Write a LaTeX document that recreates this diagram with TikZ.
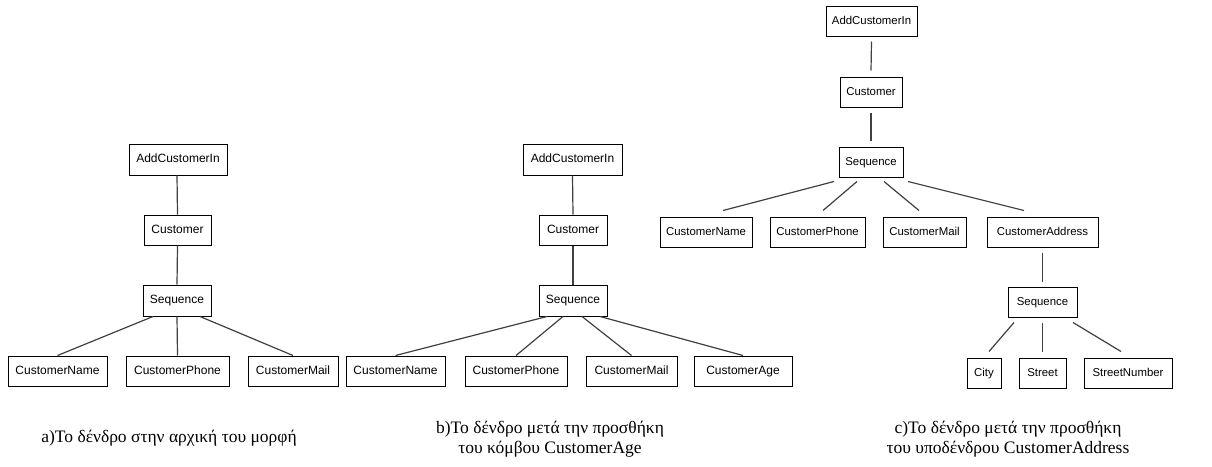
\documentclass[tikz,border=0pt]{standalone}
\usepackage{fontspec}
\setmainfont{Liberation Serif}
\newfontfamily\boxfont{Liberation Sans}
\begin{document}
\begin{tikzpicture}[x=1pt,y=-1pt,
  tnode/.style={draw=black,line width=1pt,rectangle,inner sep=0pt,
    minimum height=30pt,text height=8.8pt,text depth=2.4pt,
    font=\boxfont\fontsize{12}{14}\selectfont},
  tnodec/.style={tnode,font=\boxfont\fontsize{11.4}{14}\selectfont},
  edge/.style={draw=black!75,line width=1.2pt},
  caption/.style={align=center,anchor=base,font=\fontsize{17.5}{19.5}\selectfont}]
\useasboundingbox (0,0) rectangle (1212,466);

% ---- tree a ----
\node[tnode,minimum width=98pt,minimum height=31pt] (addA) at (178,159.5) {AddCustomerIn};
\node[tnode,minimum width=67pt] (custA) at (177.5,230) {Customer};
\node[tnode,minimum width=68pt,minimum height=31pt] (seqA) at (177,300.5) {Sequence};
\node[tnode,minimum width=99pt] (nameA) at (57.5,371) {CustomerName};
\node[tnode,minimum width=103pt] (phoneA) at (177.5,371) {CustomerPhone};
\node[tnode,minimum width=90pt] (mailA) at (293,371) {CustomerMail};
\draw[edge] ([xshift=-1pt]addA.south) -- (custA.north);
\draw[edge] (custA.south) -- (seqA.north);
\draw[edge] ([xshift=-24pt]seqA.south) -- (nameA.north);
\draw[edge] (seqA.south) -- (phoneA.north);
\draw[edge] ([xshift=23pt]seqA.south) -- (mailA.north);

% ---- tree b ----
\node[tnode,minimum width=99pt,minimum height=31pt] (addB) at (572.5,159.5) {AddCustomerIn};
\node[tnode,minimum width=68pt] (custB) at (573,230) {Customer};
\node[tnode,minimum width=68pt,minimum height=31pt] (seqB) at (573,300.5) {Sequence};
\node[tnode,minimum width=99pt] (nameB) at (395.5,371) {CustomerName};
\node[tnode,minimum width=102pt] (phoneB) at (516,371) {CustomerPhone};
\node[tnode,minimum width=91pt] (mailB) at (631.5,371) {CustomerMail};
\node[tnode,minimum width=98pt] (ageB) at (743,371) {CustomerAge};
\draw[edge] (addB.south) -- (custB.north);
\draw[edge] (custB.south) -- (seqB.north);
\draw[edge] ([xshift=-26pt]seqB.south) -- (nameB.north);
\draw[edge] ([xshift=-10pt]seqB.south) -- (phoneB.north);
\draw[edge] ([xshift=9pt]seqB.south) -- (mailB.north);
\draw[edge] ([xshift=27pt]seqB.south) -- (ageB.north);

% ---- tree c ----
\node[tnodec,minimum width=91pt] (addC) at (871.5,21) {AddCustomerIn};
\node[tnodec,minimum width=62pt] (custC) at (871,92) {Customer};
\node[tnodec,minimum width=64pt] (seqC) at (871,162) {Sequence};
\node[tnodec,minimum width=92pt] (nameC) at (706,232) {CustomerName};
\node[tnodec,minimum width=95pt] (phoneC) at (817.5,232) {CustomerPhone};
\node[tnodec,minimum width=83pt] (mailC) at (924.5,232) {CustomerMail};
\node[tnodec,minimum width=111pt] (addrC) at (1042.5,232) {CustomerAddress};
\node[tnodec,minimum width=69pt] (seq2C) at (1042.5,302) {Sequence};
\node[tnodec,minimum width=34pt] (cityC) at (984,373) {City};
\node[tnodec,minimum width=47pt] (streetC) at (1042.5,373) {Street};
\node[tnodec,minimum width=88pt] (snC) at (1128,373) {StreetNumber};
\draw[edge] ([yshift=-5pt]addC.south) -- ([yshift=6pt]custC.north);
\draw[edge] ([yshift=-5pt]custC.south) -- ([yshift=6pt]seqC.north);
\draw[edge] ([xshift=-37pt,yshift=-4pt]seqC.south) -- ([xshift=17pt,yshift=6pt]nameC.north);
\draw[edge] ([xshift=-14pt,yshift=-4pt]seqC.south) -- ([xshift=5.5pt,yshift=6pt]phoneC.north);
\draw[edge] ([xshift=13pt,yshift=-4pt]seqC.south) -- ([xshift=-5.5pt,yshift=6pt]mailC.north);
\draw[edge] ([xshift=37pt,yshift=-4pt]seqC.south) -- ([xshift=-18.5pt,yshift=6pt]addrC.north);
\draw[edge] ([yshift=-5pt]addrC.south) -- ([yshift=5pt]seq2C.north);
\draw[edge] ([xshift=-28.5pt,yshift=-5pt]seq2C.south) -- ([xshift=5pt,yshift=6pt]cityC.north);
\draw[edge] ([yshift=-5pt]seq2C.south) -- ([yshift=6pt]streetC.north);
\draw[edge] ([xshift=30.5pt,yshift=-5pt]seq2C.south) -- ([xshift=-7pt,yshift=6pt]snC.north);

% ---- captions (anchored at the baseline of the last line) ----
\node[caption] (capA) at (169,442) {a)Το δένδρο στην αρχική του μορφή};
\node[caption] (capB) at (550,453) {b)Το δένδρο μετά την προσθήκη\\του κόμβου CustomerAge};
\node[caption] (capC) at (1008,453) {c)Το δένδρο μετά την προσθήκη\\του υποδένδρου CustomerAddress};
\end{tikzpicture}
\end{document}
